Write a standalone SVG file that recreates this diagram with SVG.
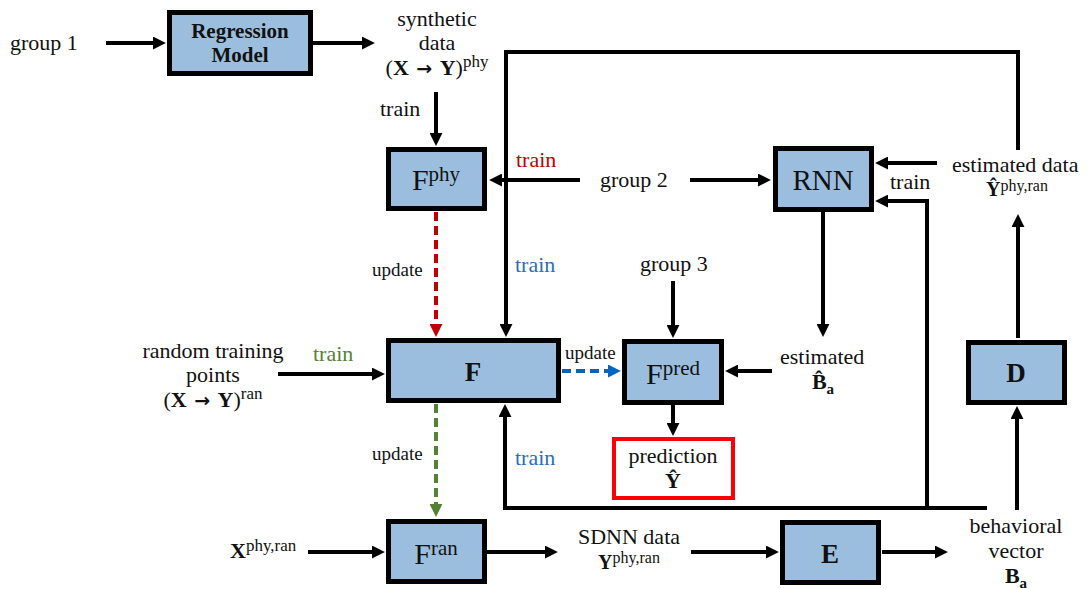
<svg xmlns="http://www.w3.org/2000/svg" width="1090" height="589" viewBox="0 0 1090 589">
  <style>
    .box { fill: #9bbedf; stroke: #000; stroke-width: 5; }
    .pred { fill: #fff; stroke: #ff0000; stroke-width: 4; }
    .ln { fill: none; stroke: #000; stroke-width: 4; }
    .arr { marker-end: url(#ah); }
    .dr { fill: none; stroke: #c00000; stroke-width: 4; stroke-dasharray: 9 5; marker-end: url(#ahr); }
    .dg { fill: none; stroke: #548235; stroke-width: 4; stroke-dasharray: 9 5; marker-end: url(#ahg); }
    .db { fill: none; stroke: #0563c1; stroke-width: 4; stroke-dasharray: 9 5; marker-end: url(#ahb); }
    text { font-family: "Liberation Serif", "DejaVu Serif", serif; font-size: 22px; fill: #111; }
    .c { text-anchor: middle; }
    .b { font-weight: bold; }
    .sm { font-size: 19px; }
    .s20 { font-size: 20px; }
    .s21 { font-size: 21px; }
    .s27 { font-size: 27px; }
    .s29 { font-size: 29px; }
    .big { font-size: 30px; }
    .sup { font-size: 21px; }
    .ar { font-family: "DejaVu Sans", sans-serif; font-weight: bold; font-size: 19px; }
    .red { fill: #c00000; }
    .blue { fill: #2a6ebb; }
    .green { fill: #548235; }
  </style>
  <defs>
    <marker id="ah" viewBox="0 0 10 10" refX="7" refY="5" markerUnits="userSpaceOnUse" markerWidth="13" markerHeight="13" orient="auto">
      <path d="M0,0 L10,5 L0,10 z" fill="#000"/>
    </marker>
    <marker id="ahr" viewBox="0 0 10 10" refX="7" refY="5" markerUnits="userSpaceOnUse" markerWidth="13" markerHeight="13" orient="auto">
      <path d="M0,0 L10,5 L0,10 z" fill="#c00000"/>
    </marker>
    <marker id="ahg" viewBox="0 0 10 10" refX="7" refY="5" markerUnits="userSpaceOnUse" markerWidth="13" markerHeight="13" orient="auto">
      <path d="M0,0 L10,5 L0,10 z" fill="#548235"/>
    </marker>
    <marker id="ahb" viewBox="0 0 10 10" refX="7" refY="5" markerUnits="userSpaceOnUse" markerWidth="13" markerHeight="13" orient="auto">
      <path d="M0,0 L10,5 L0,10 z" fill="#0563c1"/>
    </marker>
  </defs>

  <!-- connectors -->
  <g id="connectors">
    <line class="ln arr" x1="106" y1="43" x2="162" y2="43"/>
    <line class="ln arr" x1="313" y1="43" x2="371" y2="43"/>
    <line class="ln arr" x1="436" y1="92" x2="436" y2="142"/>
    <line class="ln arr" x1="580" y1="180" x2="493" y2="180"/>
    <polyline class="ln arr" points="1018,150 1018,52 506,52 506,333"/>
    <line class="ln arr" x1="690" y1="180" x2="767" y2="180"/>
    <line class="ln arr" x1="937" y1="163" x2="879" y2="163"/>
    <polyline class="ln arr" points="927,510 927,201 879,201"/>
    <line class="ln arr" x1="1018" y1="338" x2="1018" y2="218"/>
    <line class="ln arr" x1="823" y1="212" x2="823" y2="333"/>
    <line class="ln arr" x1="772" y1="371" x2="729" y2="371"/>
    <line class="ln arr" x1="673" y1="281" x2="673" y2="334"/>
    <line class="ln arr" x1="673" y1="405" x2="673" y2="432"/>
    <line class="dr" x1="436" y1="212" x2="436" y2="333"/>
    <line class="db" x1="562" y1="371" x2="617" y2="371"/>
    <line class="ln arr" x1="278" y1="374" x2="381" y2="374"/>
    <line class="dg" x1="436" y1="404" x2="436" y2="513"/>
    <polyline class="ln arr" points="987,508 505,508 505,408"/>
    <line class="ln arr" x1="1017" y1="510" x2="1017" y2="410"/>
    <line class="ln arr" x1="308" y1="552" x2="381" y2="552"/>
    <line class="ln arr" x1="487" y1="552" x2="554" y2="552"/>
    <line class="ln arr" x1="691" y1="552" x2="775" y2="552"/>
    <line class="ln arr" x1="882" y1="552" x2="944" y2="552"/>
  </g>

  <!-- edge labels -->
  <g id="labels">
    <text x="380" y="116">train</text>
    <text x="516" y="167" class="red">train</text>
    <text x="515" y="272" class="blue">train</text>
    <text x="515" y="465" class="blue">train</text>
    <text x="313" y="361" class="green">train</text>
    <text x="890" y="189">train</text>
    <text x="372" y="276" class="sm">update</text>
    <text x="372" y="460" class="sm">update</text>
    <text x="565" y="359" class="sm">update</text>
  </g>

  <!-- input / output texts -->
  <g id="group1"><text x="10" y="50">group 1</text></g>
  <g id="group2"><text x="600" y="187">group 2</text></g>
  <g id="group3"><text x="640" y="271">group 3</text></g>

  <g id="synthetic">
    <text x="437" y="26" class="c">synthetic</text>
    <text x="437" y="50" class="c">data</text>
    <text x="437" y="75" class="c">(<tspan class="b">X</tspan> <tspan class="ar" dx="2">→</tspan> <tspan class="b" dx="2">Y</tspan>)<tspan dy="-8" font-size="17">phy</tspan></text>
  </g>

  <g id="random">
    <text x="213" y="358" class="c">random training</text>
    <text x="213" y="382" class="c">points</text>
    <text x="213" y="407" class="c">(<tspan class="b">X</tspan> <tspan class="ar" dx="2">→</tspan> <tspan class="b" dx="2">Y</tspan>)<tspan dy="-8" font-size="17">ran</tspan></text>
  </g>

  <g id="estData">
    <text x="952" y="172">estimated data</text>
    <text x="1017" y="196" class="c s20"><tspan class="b">Ŷ</tspan><tspan dy="-5" font-size="16">phy,ran</tspan></text>
  </g>

  <g id="estB">
    <text x="780" y="364">estimated</text>
    <text x="823" y="389" class="c"><tspan class="b">B̂</tspan><tspan dy="5" font-size="15" class="b">a</tspan></text>
  </g>

  <g id="xin">
    <text x="230" y="558"><tspan class="b">X</tspan><tspan dy="-7" font-size="17">phy,ran</tspan></text>
  </g>

  <g id="sdnn">
    <text x="629" y="544" class="c">SDNN data</text>
    <text x="629" y="569" class="c s20"><tspan class="b">Y</tspan><tspan dy="-6" font-size="16">phy,ran</tspan></text>
  </g>

  <g id="behav">
    <text x="1016" y="533" class="c">behavioral</text>
    <text x="1016" y="558" class="c">vector</text>
    <text x="1016" y="583" class="c"><tspan class="b">B</tspan><tspan dy="5" font-size="15" class="b">a</tspan></text>
  </g>

  <!-- blocks -->
  <g id="regression">
    <rect class="box" x="169.5" y="12.5" width="141" height="61"/>
    <text x="240" y="38" class="c b s21">Regression</text>
    <text x="240" y="62" class="c b s21">Model</text>
  </g>

  <g id="fphy">
    <rect class="box" x="388.5" y="149.5" width="96" height="59"/>
    <text x="436" y="190" class="c"><tspan class="big">F</tspan><tspan class="sup" dy="-9">phy</tspan></text>
  </g>

  <g id="rnn">
    <rect class="box" x="775.5" y="148.5" width="96" height="61"/>
    <text x="823" y="190" class="c s29">RNN</text>
  </g>

  <g id="f">
    <rect class="box" x="388.5" y="340.5" width="170" height="60"/>
    <text x="473" y="381" class="c b s27">F</text>
  </g>

  <g id="fpred">
    <rect class="box" x="624.5" y="341.5" width="97" height="61"/>
    <text x="673" y="384" class="c"><tspan class="big">F</tspan><tspan class="sup" dy="-9">pred</tspan></text>
  </g>

  <g id="prediction">
    <rect class="pred" x="614" y="439" width="119" height="59"/>
    <text x="673" y="463" class="c">prediction</text>
    <text x="673" y="488" class="c b">Ŷ</text>
  </g>

  <g id="d">
    <rect class="box" x="968.5" y="342.5" width="96" height="60"/>
    <text x="1016" y="382" class="c b s27">D</text>
  </g>

  <g id="fran">
    <rect class="box" x="388.5" y="521.5" width="96" height="60"/>
    <text x="436" y="564" class="c"><tspan class="big">F</tspan><tspan class="sup" dy="-9">ran</tspan></text>
  </g>

  <g id="e">
    <rect class="box" x="782.5" y="522.5" width="96" height="60"/>
    <text x="830" y="563" class="c b s27">E</text>
  </g>
</svg>
